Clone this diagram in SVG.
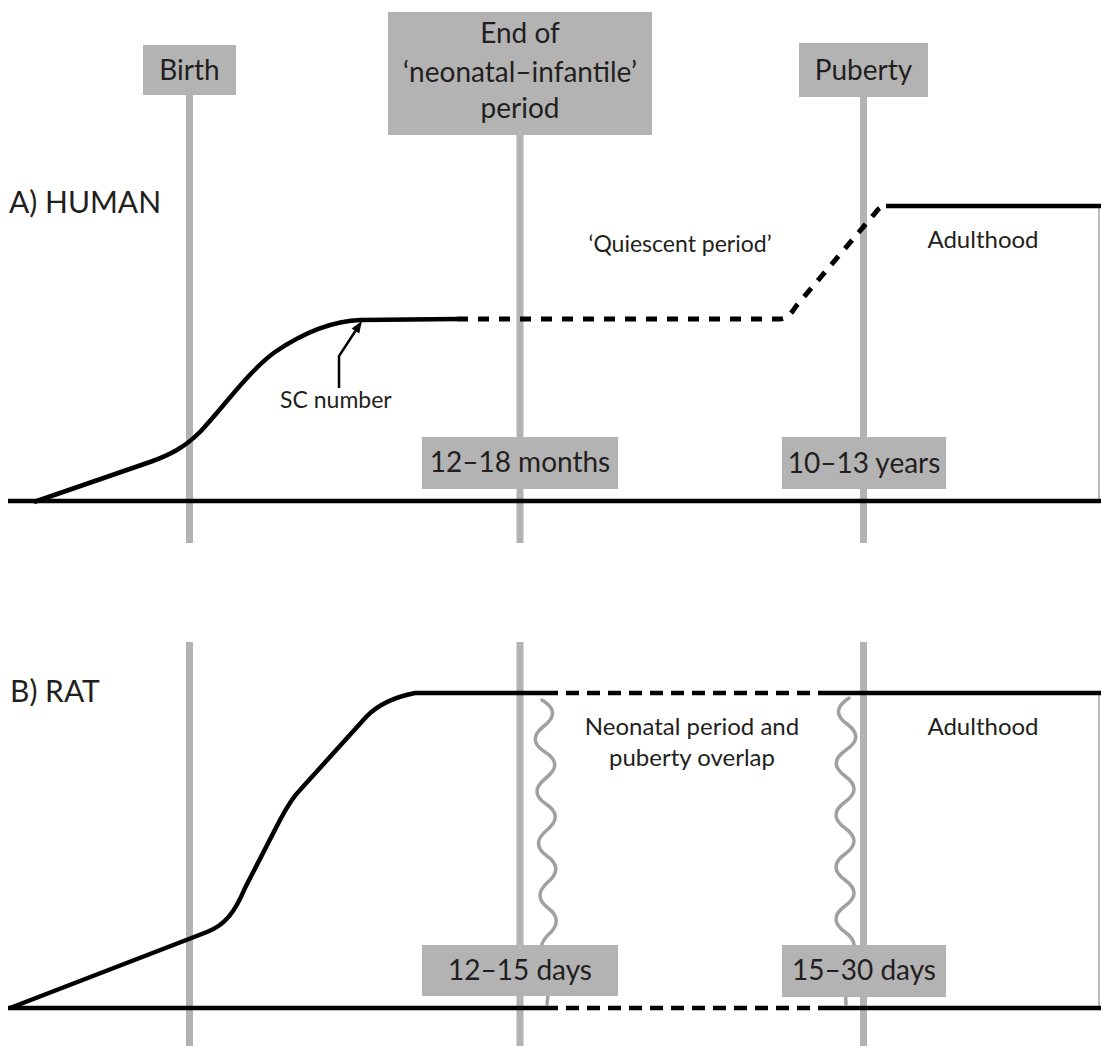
<svg xmlns="http://www.w3.org/2000/svg" width="1101" height="1046" viewBox="0 0 1101 1046">
<style>
  .box { fill: #b3b3b3; }
  .vline { stroke: #b3b3b3; stroke-width: 7; fill: none; }
  .edge { stroke: #a6a6a6; stroke-width: 1.5; fill: none; }
  .curve { stroke: #000; stroke-width: 4.5; fill: none; stroke-linejoin: round; }
  .dh { stroke: #000; stroke-width: 5; fill: none; stroke-dasharray: 11 10; }
  .dr { stroke: #000; stroke-width: 4.5; fill: none; stroke-dasharray: 13 8; }
  .wave { stroke: #a0a0a0; stroke-width: 3.5; fill: none; stroke-linecap: round; }
  text { font-family: Lato, "Liberation Sans", sans-serif; fill: #231f20; }
  .head { font-size: 30px; }
  .big { font-size: 28px; }
  .mid { font-size: 24px; }
  .sm { font-size: 23px; }
  .c { text-anchor: middle; }
</style>
<rect width="1101" height="1046" fill="#fff"/>

<g id="guides">
  <line class="vline" x1="189.5" y1="60" x2="189.5" y2="543"/>
  <line class="vline" x1="520" y1="60" x2="520" y2="543"/>
  <line class="vline" x1="863.5" y1="60" x2="863.5" y2="543"/>
  <line class="vline" x1="189.5" y1="642" x2="189.5" y2="1046"/>
  <line class="vline" x1="520" y1="642" x2="520" y2="1046"/>
  <line class="vline" x1="863.5" y1="642" x2="863.5" y2="1046"/>
</g>

<g id="connectors">
  <!-- Human -->
  <line class="edge" x1="1099" y1="206" x2="1099" y2="501"/>
  <line class="curve" x1="8" y1="501" x2="1101" y2="501" stroke-width="4"/>
  <path class="curve" d="M34,502 L150,462 C170,455 185,447 200,432 C225,405 250,370 275,352 C300,335 330,321 361,320 L457,319"/>
  <path class="dh" d="M457,319 L780,319 C788,319 792,312 797,305 L876,212 C879,208 882,206 888,206"/>
  <line class="curve" x1="886" y1="206" x2="1101" y2="206"/>
  <path d="M339,388 L339,356 L355.4,331" stroke="#000" stroke-width="2.5" fill="none" stroke-linejoin="miter"/>
  <polygon points="362,321 359.2,333.5 351.6,328.5" fill="#000"/>
  <!-- Rat -->
  <line class="edge" x1="1099" y1="693" x2="1099" y2="1008"/>
  <path class="wave" d="M542,700 Q562,712 544,726 T545,752 T546,778 T546,804 T547,830 T547,856 T548,882 T548,908 T549,934 T549,960 T549,986 L547,1004"/>
  <path class="wave" d="M849,698 Q829,711 847,724 T846,750 T845,776 T845,802 T845,828 T845,854 T845,880 T845,906 T845,932 T845,958 T845,984 L846,1004"/>
  <path class="curve" d="M10,1008 L207,932 C225,925 235,912 245,888 L280,820 C288,805 293,797 300,790 L367,716 C378,705 395,697 415,693 L545,693"/>
  <line class="dr" x1="545" y1="693" x2="825" y2="693"/>
  <line class="curve" x1="825" y1="693" x2="1101" y2="693"/>
  <line class="curve" x1="8" y1="1008" x2="545" y2="1008"/>
  <line class="dr" x1="545" y1="1008" x2="825" y2="1008"/>
  <line class="curve" x1="825" y1="1008" x2="1101" y2="1008"/>
</g>

<g id="birth">
  <rect class="box" x="143" y="45" width="93" height="50"/>
  <text class="big c" x="189.5" y="80">Birth</text>
</g>
<g id="end-neonatal">
  <rect class="box" x="388" y="12" width="264" height="123"/>
  <text class="big c" x="520" y="43">End of</text>
  <text class="big c" x="520" y="82">‘neonatal–infantile’</text>
  <text class="big c" x="520" y="118">period</text>
</g>
<g id="puberty">
  <rect class="box" x="799" y="43" width="129" height="54"/>
  <text class="big c" x="863.5" y="80">Puberty</text>
</g>

<g id="human-labels">
  <text class="head" x="9" y="213">A) HUMAN</text>
  <text class="sm c" x="680" y="252">‘Quiescent period’</text>
  <text class="mid c" x="983" y="248">Adulthood</text>
  <text class="sm" x="280" y="408">SC number</text>
</g>
<g id="human-12-18">
  <rect class="box" x="422" y="437" width="196" height="52"/>
  <text class="big c" x="520" y="472">12–18 months</text>
</g>
<g id="human-10-13">
  <rect class="box" x="782" y="437" width="164" height="52"/>
  <text class="big c" x="864" y="473">10–13 years</text>
</g>

<g id="rat-labels">
  <text class="head" x="10" y="702">B) RAT</text>
  <text class="mid c" x="692" y="735">Neonatal period and</text>
  <text class="mid c" x="692" y="766">puberty overlap</text>
  <text class="mid c" x="983" y="735">Adulthood</text>
</g>
<g id="rat-12-15">
  <rect class="box" x="422" y="945" width="196" height="51"/>
  <text class="big c" x="520" y="980">12–15 days</text>
</g>
<g id="rat-15-30">
  <rect class="box" x="782" y="945" width="164" height="52"/>
  <text class="big c" x="864" y="980">15–30 days</text>
</g>
</svg>
